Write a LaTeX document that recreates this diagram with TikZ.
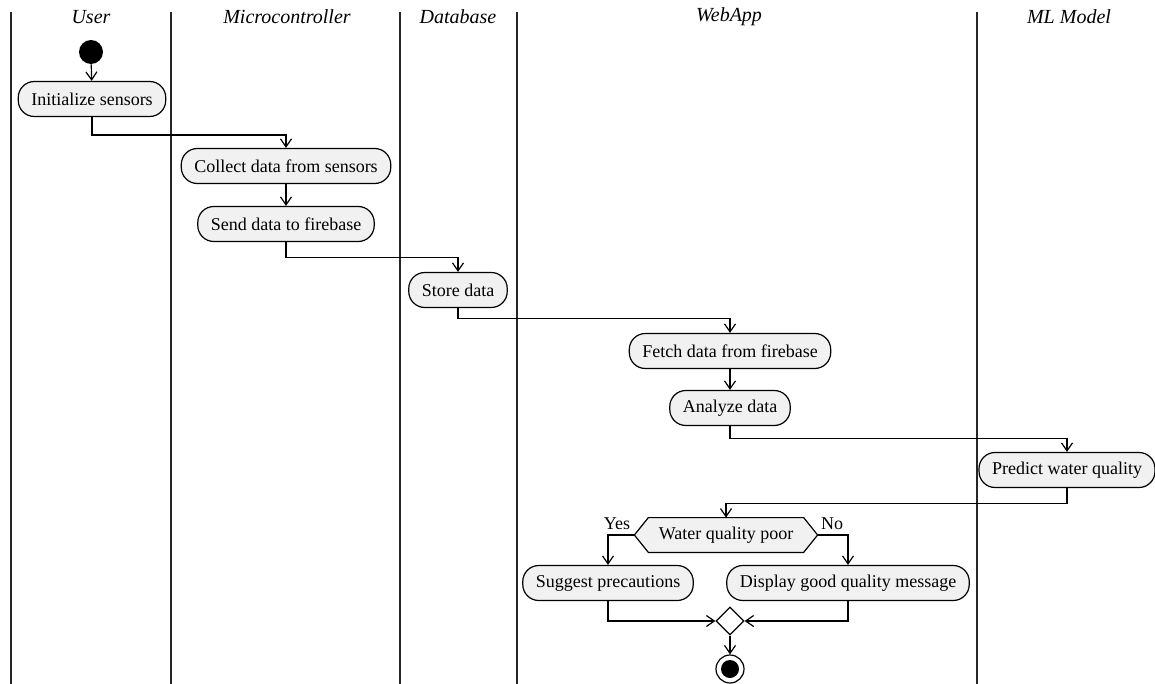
\documentclass[tikz,border=0pt]{standalone}
\usepackage{fontspec}
\setmainfont{Liberation Serif}
\usetikzlibrary{arrows.meta,calc,backgrounds,positioning,shapes.geometric}
\definecolor{actfill}{HTML}{F1F1F1}
\begin{document}
\begin{tikzpicture}[x=0.5pt,y=-0.5pt,
  lane/.style={line width=0.6pt,draw=black!85},
  lanetitle/.style={font=\fontsize{10}{12}\selectfont\itshape,anchor=center},
  act/.style={draw,line width=0.6pt,fill=actfill,rounded corners=8pt,
    font=\fontsize{9}{11}\selectfont,inner xsep=6.5pt,inner ysep=0pt,
    minimum height=17.5pt},
  dectext/.style={font=\fontsize{9}{11}\selectfont,inner xsep=5pt,inner ysep=0pt,
    minimum height=17pt},
  flow/.style={line width=0.6pt,-{Straight Barb[length=4pt,width=5.5pt]}},
  lbl/.style={font=\fontsize{9}{11}\selectfont,inner sep=0pt}
]
\useasboundingbox (0,0) rectangle (1155,684);
% swimlanes
\foreach \x/\n in {11/l1,171/l2,400/l3,517/l4,977/l5}{
  \draw[lane] (\x,12) coordinate (\n top) -- (\x,684) coordinate (\n bot);
}
\node[lanetitle] (tUser) at (91,17) {User};
\node[lanetitle] (tMicro) at (287,17) {Microcontroller};
\node[lanetitle] (tDb) at (458,17) {Database};
\node[lanetitle] (tWeb) at (729,17) {WebApp};
\node[lanetitle] (tML) at (1069,17) {ML Model};

% nodes
\node[circle,fill=black,minimum size=12pt,inner sep=0pt] (start) at (91,52) {};
\node[act] (init) at (92,99) {Initialize sensors};
\node[act] (collect) at (286,166) {Collect data from sensors};
\node[act] (send) at (286,224) {Send data to firebase};
\node[act] (store) at (458,290) {Store data};
\node[act] (fetch) at (730,351) {Fetch data from firebase};
\node[act] (analyze) at (730,408) {Analyze data};
\node[act] (predict) at (1067,470) {Predict water quality};
\node[dectext] (dec) at (726,535) {Water quality poor};
\coordinate (decL) at ($(dec.west)+(-14,0)$);
\coordinate (decR) at ($(dec.east)+(14,0)$);
\begin{scope}[on background layer]
\draw[line width=0.6pt,fill=actfill] (dec.north west) -- (dec.north east) -- (decR)
  -- (dec.south east) -- (dec.south west) -- (decL) -- cycle;
\end{scope}
\node[act] (suggest) at (608,583) {Suggest precautions};
\node[act] (display) at (848,583) {Display good quality message};
\node[draw,line width=0.6pt,fill=white,minimum size=14pt,inner sep=0pt,diamond] (merge) at (730,621) {};
\node[circle,draw,line width=0.6pt,fill=white,minimum size=14pt,inner sep=0pt] (endO) at (730,669) {};
\node[circle,fill=black,minimum size=9pt,inner sep=0pt] (endI) at (endO.center) {};

% connectors
\draw[flow] (start) -- (init);
\draw[flow] (init.south) -- ++(0,18) -| (collect.north);
\draw[flow] (collect) -- (send);
\draw[flow] (send.south) -- ++(0,15) -| (store.north);
\draw[flow] (store.south) -- ++(0,10) -| (fetch.north);
\draw[flow] (fetch) -- (analyze);
\draw[flow] (analyze.south) -- ++(0,12) -| (predict.north);
\draw[flow] (predict.south) -- ++(0,15) -| (dec.north);
\draw[flow] (decL) -| (suggest.north);
\draw[flow] (decR) -| (display.north);
\draw[flow] (suggest.south) |- (merge.west);
\draw[flow] (display.south) |- (merge.east);
\draw[flow] (merge.south) -- (endO.north);
\node[lbl] (yes) at (617,524) {Yes};
\node[lbl] (no) at (832,524) {No};
\end{tikzpicture}
\end{document}
